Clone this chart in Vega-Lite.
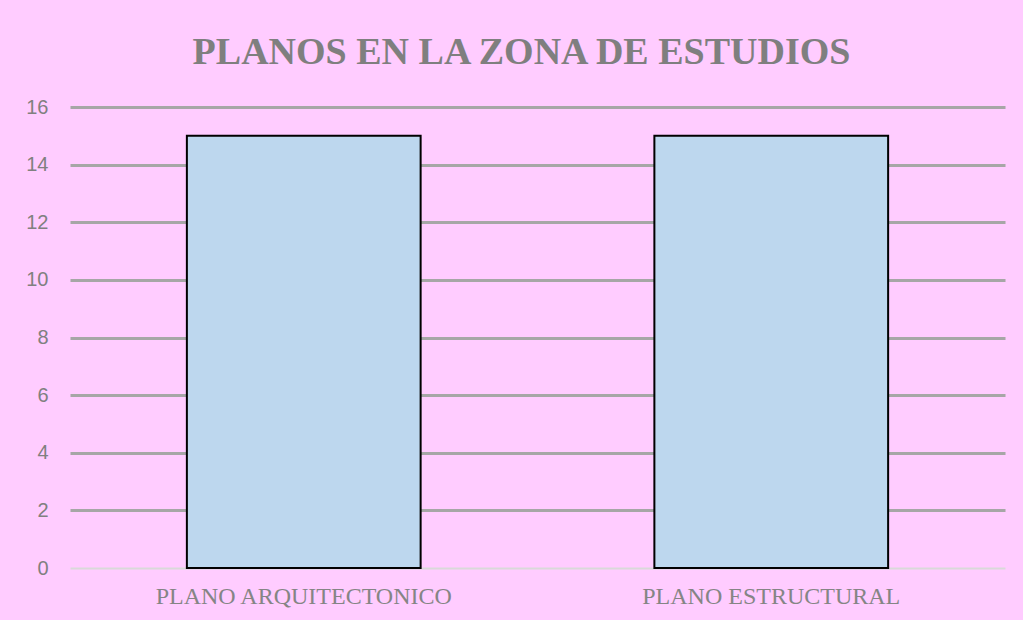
{
  "$schema": "https://vega.github.io/schema/vega-lite/v6.json",
  "autosize": {"type": "none"},
  "width": 935,
  "height": 461,
  "padding": {"left": 70, "top": 107, "right": 18, "bottom": 52},
  "background": "#FFCCFF",
  "title": {
    "text": "PLANOS EN LA ZONA DE ESTUDIOS",
    "font": "Liberation Serif",
    "fontSize": 38,
    "fontWeight": "bold",
    "color": "#7F7F7F",
    "anchor": "middle",
    "baseline": "alphabetic",
    "offset": -5,
    "dx": -16
  },
  "data": {
    "values": [
      {"plano": "PLANO ARQUITECTONICO", "cantidad": 15},
      {"plano": "PLANO ESTRUCTURAL", "cantidad": 15}
    ]
  },
  "mark": {"type": "bar", "fill": "#BDD7EE", "stroke": "#000000", "strokeWidth": 2},
  "encoding": {
    "x": {
      "field": "plano",
      "type": "nominal",
      "sort": null,
      "scale": {"paddingInner": 0.5, "paddingOuter": 0.25},
      "axis": {
        "title": null,
        "labelAngle": 0,
        "labelFont": "Liberation Serif",
        "labelFontSize": 24,
        "labelColor": "#858585",
        "labelPadding": 16,
        "labelLimit": 600,
        "ticks": false,
        "domain": false,
        "grid": false
      }
    },
    "y": {
      "field": "cantidad",
      "type": "quantitative",
      "scale": {"domain": [0, 16]},
      "axis": {
        "title": null,
        "values": [0, 2, 4, 6, 8, 10, 12, 14, 16],
        "labelFont": "Liberation Sans",
        "labelFontSize": 20,
        "labelColor": "#808080",
        "labelPadding": 22,
        "ticks": false,
        "domain": false,
        "grid": true,
        "gridColor": {"condition": {"test": "datum.value === 0", "value": "#D9D9D9"}, "value": "#A6A6A6"},
        "gridWidth": {"condition": {"test": "datum.value === 0", "value": 2}, "value": 3}
      }
    }
  },
  "config": {
    "view": {"stroke": null},
    "axis": {"gridOpacity": 1}
  }
}
